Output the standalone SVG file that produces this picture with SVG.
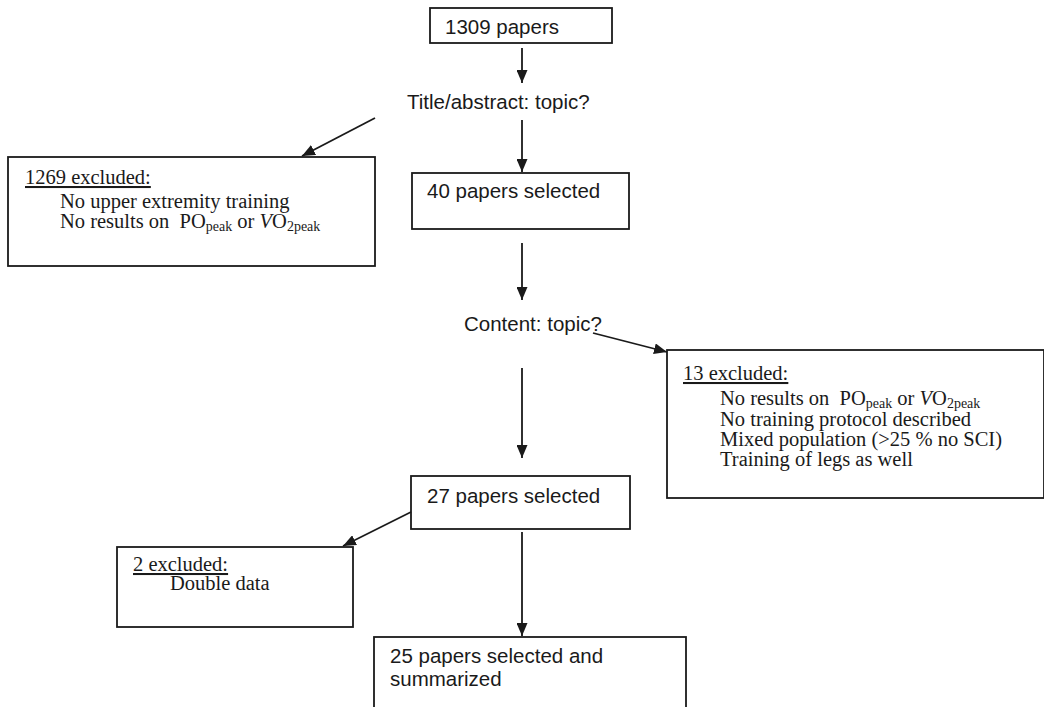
<svg xmlns="http://www.w3.org/2000/svg" width="1044" height="707" viewBox="0 0 1044 707">
<style>
.box{fill:#fff;stroke:#1a1a1a;stroke-width:1.8}
.sans{font-family:"Liberation Sans",Arial,sans-serif;font-size:20.5px;fill:#1a1a1a}
.serif{font-family:"Liberation Serif","Times New Roman",serif;font-size:20.5px;fill:#1a1a1a}
.sub{font-size:14px}
.conn line{stroke:#1a1a1a;stroke-width:1.8;fill:none;marker-end:url(#ah)}
</style>
<defs>
<marker id="ah" viewBox="0 0 13 11" refX="13" refY="5.5" markerWidth="13" markerHeight="11" markerUnits="userSpaceOnUse" orient="auto">
<path d="M0,0 L13,5.5 L0,11 Z" fill="#1a1a1a"/>
</marker>
</defs>
<rect width="1044" height="707" fill="#fff"/>

<g id="n1309">
<rect class="box" x="430" y="8" width="182" height="35"/>
<text class="sans" x="445" y="34">1309 papers</text>
</g>

<g id="q1">
<text class="sans" x="407" y="109">Title/abstract: topic?</text>
</g>

<g id="ex1269">
<rect class="box" x="8" y="157" width="367" height="109"/>
<text class="serif" x="25" y="184" text-decoration="underline">1269 excluded:</text>
<text class="serif" x="60" y="208">No upper extremity training</text>
<text class="serif" x="60" y="228" xml:space="preserve">No results on  PO<tspan class="sub" dy="3">peak</tspan><tspan dy="-3"> or </tspan><tspan font-style="italic">V</tspan>O<tspan class="sub" dy="3">2peak</tspan></text>
</g>

<g id="n40">
<rect class="box" x="412" y="173" width="217" height="56"/>
<text class="sans" x="427" y="198">40 papers selected</text>
</g>

<g id="q2">
<text class="sans" x="464" y="331">Content: topic?</text>
</g>

<g id="ex13">
<rect class="box" x="667" y="350" width="377" height="148"/>
<text class="serif" x="683" y="380" text-decoration="underline">13 excluded:</text>
<text class="serif" x="720" y="405" xml:space="preserve">No results on  PO<tspan class="sub" dy="3">peak</tspan><tspan dy="-3"> or </tspan><tspan font-style="italic">V</tspan>O<tspan class="sub" dy="3">2peak</tspan></text>
<text class="serif" x="720" y="426">No training protocol described</text>
<text class="serif" x="720" y="446">Mixed population (&gt;25 % no SCI)</text>
<text class="serif" x="720" y="466">Training of legs as well</text>
</g>

<g id="n27">
<rect class="box" x="411" y="476" width="219" height="53"/>
<text class="sans" x="427" y="503">27 papers selected</text>
</g>

<g id="ex2">
<rect class="box" x="117" y="547" width="236" height="80"/>
<text class="serif" x="133" y="571" text-decoration="underline">2 excluded:</text>
<text class="serif" x="170" y="590">Double data</text>
</g>

<g id="n25">
<rect class="box" x="374" y="637" width="312" height="90"/>
<text class="sans" x="390" y="663">25 papers selected and</text>
<text class="sans" x="390" y="686">summarized</text>
</g>

<g class="conn" id="connectors">
<line x1="522" y1="48" x2="522" y2="83"/>
<line x1="522" y1="120" x2="522" y2="172"/>
<line x1="375" y1="118" x2="302" y2="156"/>
<line x1="522" y1="243" x2="522" y2="300"/>
<line x1="593" y1="333" x2="667" y2="352"/>
<line x1="522" y1="368" x2="522" y2="458"/>
<line x1="411" y1="512" x2="343" y2="546"/>
<line x1="522" y1="532" x2="522" y2="636"/>
</g>
</svg>
